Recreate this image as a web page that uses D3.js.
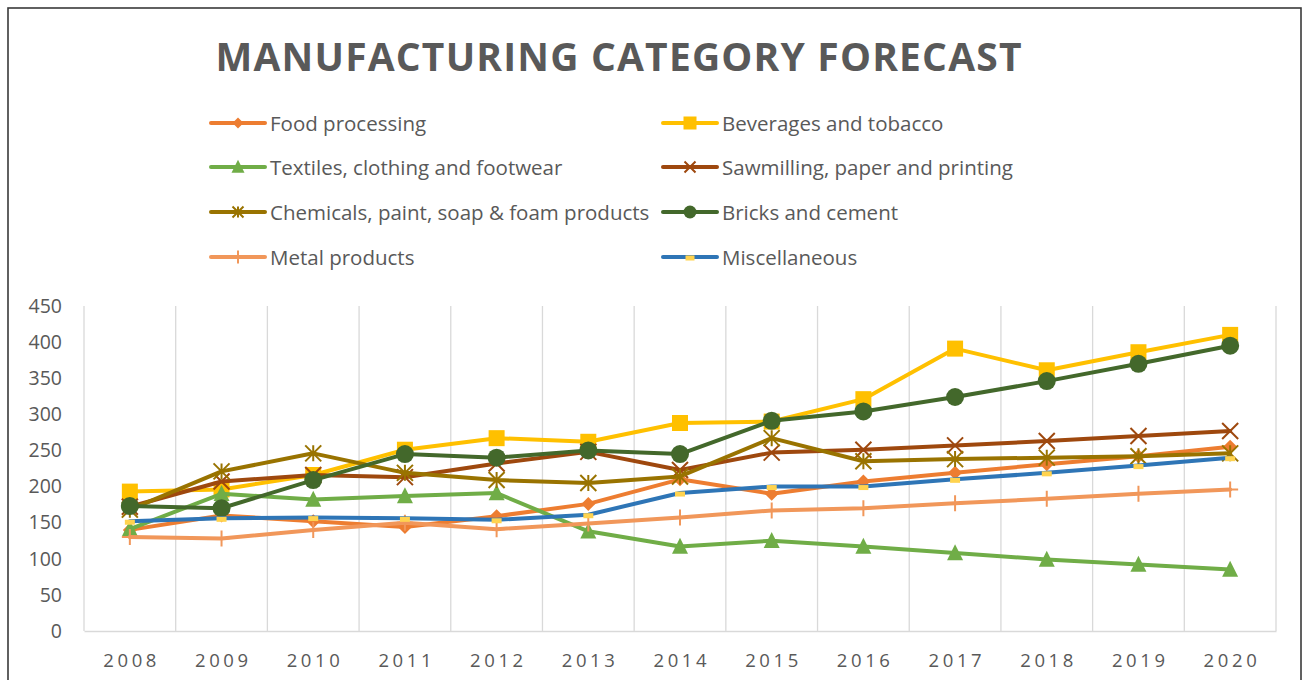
<!DOCTYPE html>
<html>
<head>
<meta charset="utf-8">
<script src="https://cdn.jsdelivr.net/npm/d3@7"></script>
<style>
  html, body { margin: 0; padding: 0; background: #fff; }
  svg { display: block; font-family: "Open Sans", "Liberation Sans", sans-serif; }
</style>
</head>
<body>
<svg id="chart" width="1305" height="680"></svg>
<script>
// Years on the category axis
const years = ["2008","2009","2010","2011","2012","2013","2014","2015","2016","2017","2018","2019","2020"];
const yTicks = [0, 50, 100, 150, 200, 250, 300, 350, 400, 450];

// Series values, one per year
const foodProcessing   = [140, 160, 152, 144, 159, 176, 210, 190, 207, 219, 231, 242, 255];
const beveragesTobacco = [193, 196, 216, 251, 267, 262, 288, 290, 321, 391, 361, 386, 410];
const textiles         = [141, 190, 182, 187, 191, 138, 117, 125, 117, 108, 99, 92, 85];
const sawmilling       = [172, 207, 216, 213, 232, 248, 223, 247, 251, 257, 263, 270, 277];
const chemicals        = [168, 221, 246, 219, 209, 205, 214, 267, 235, 238, 240, 242, 246];
const bricksCement     = [173, 170, 209, 245, 240, 250, 245, 291, 304, 324, 346, 370, 395];
const metalProducts    = [130, 128, 140, 150, 141, 149, 157, 167, 170, 177, 183, 190, 196];
const miscellaneous    = [152, 156, 157, 156, 154, 161, 191, 200, 200, 210, 219, 229, 240];

const seriesNames = [
  "Food processing", "Beverages and tobacco",
  "Textiles, clothing and footwear", "Sawmilling, paper and printing",
  "Chemicals, paint, soap & foam products", "Bricks and cement",
  "Metal products", "Miscellaneous"
];

const series = [
  { name: seriesNames[0], values: foodProcessing,   color: "#ED7D31", marker: "diamond" },
  { name: seriesNames[1], values: beveragesTobacco, color: "#FFC000", marker: "square" },
  { name: seriesNames[2], values: textiles,         color: "#70AD47", marker: "triangle" },
  { name: seriesNames[3], values: sawmilling,       color: "#9E480E", marker: "x" },
  { name: seriesNames[4], values: chemicals,        color: "#997300", marker: "star" },
  { name: seriesNames[5], values: bricksCement,     color: "#43682B", marker: "circle" },
  { name: seriesNames[6], values: metalProducts,    color: "#F1975A", marker: "plus" },
  { name: seriesNames[7], values: miscellaneous,    color: "#2E75B6", marker: "dash", markerColor: "#FFD34F" }
];

const svg = d3.select("#chart");
const textColor = "#595959";
const gridColor = "#D9D9D9";

// Outer chart frame (bottom edge runs past the page)
svg.append("rect")
  .attr("x", 8).attr("y", 8).attr("width", 1293).attr("height", 720)
  .attr("fill", "none").attr("stroke", "#3a3a3a").attr("stroke-width", 1.6);

// Plot area
const plot = { left: 84, right: 1276, top: 306, bottom: 631 };
const x = d3.scaleBand().domain(years).range([plot.left, plot.right]);
const y = d3.scaleLinear().domain([0, 450]).range([plot.bottom, plot.top]);
const cx = d => x(d) + x.bandwidth() / 2;

// Vertical gridlines on category boundaries
const boundaries = years.map(d => x(d)).concat([plot.right]);
svg.append("g").selectAll("line").data(boundaries).join("line")
  .attr("x1", d => d).attr("x2", d => d)
  .attr("y1", plot.top).attr("y2", plot.bottom)
  .attr("stroke", gridColor).attr("stroke-width", 1.3);

// Y axis labels
const yAxis = svg.append("g")
  .attr("transform", `translate(${plot.left},0)`)
  .call(d3.axisLeft(y).tickValues(yTicks).tickSize(0).tickPadding(22));
yAxis.select(".domain").remove();
yAxis.selectAll("text")
  .attr("fill", textColor).attr("font-size", "19.5px")
  .attr("font-family", "'Open Sans', sans-serif");

// X axis
const xAxis = svg.append("g")
  .attr("transform", `translate(0,${plot.bottom})`)
  .call(d3.axisBottom(x).tickSize(0).tickPadding(23));
xAxis.select(".domain").attr("stroke", gridColor).attr("stroke-width", 1.3);
xAxis.selectAll("text")
  .attr("fill", textColor).attr("font-size", "18.5px")
  .attr("font-family", "'Open Sans', sans-serif")
  .attr("letter-spacing", "3.6px")
  .attr("dx", "1.8px");

// Marker shapes
function drawMarker(g, type, color, size, fillColor) {
  const s = size;
  switch (type) {
    case "diamond":
      g.append("path").attr("d", `M0,${-s/2}L${s/2},0L0,${s/2}L${-s/2},0Z`).attr("fill", color);
      break;
    case "square":
      g.append("rect").attr("x", -s/2).attr("y", -s/2).attr("width", s).attr("height", s).attr("fill", color);
      break;
    case "triangle":
      g.append("path").attr("d", `M0,${-s*0.55}L${s/2},${s*0.45}L${-s/2},${s*0.45}Z`).attr("fill", color);
      break;
    case "circle":
      g.append("circle").attr("r", s/2).attr("fill", color);
      break;
    case "x":
      g.append("path").attr("d", `M${-s/2},${-s/2}L${s/2},${s/2}M${s/2},${-s/2}L${-s/2},${s/2}`)
        .attr("stroke", color).attr("stroke-width", 2).attr("fill", "none");
      break;
    case "star":
      g.append("path").attr("d", `M${-s/2},${-s/2}L${s/2},${s/2}M${s/2},${-s/2}L${-s/2},${s/2}M0,${-s/2}L0,${s/2}`)
        .attr("stroke", color).attr("stroke-width", 2).attr("fill", "none");
      break;
    case "plus":
      g.append("path").attr("d", `M0,${-s/2}L0,${s/2}M${-s/2},0L${s/2},0`)
        .attr("stroke", color).attr("stroke-width", 2).attr("fill", "none");
      break;
    case "dash":
      g.append("rect").attr("x", -s/2).attr("y", -1.5).attr("width", s).attr("height", 5)
        .attr("fill", fillColor || color);
      break;
  }
}

const markerSize = { diamond: 14, square: 16, triangle: 16, circle: 18, x: 16, star: 16, plus: 16, dash: 10 };

// Lines and markers, drawn in series order
const line = d3.line().x((d, i) => cx(years[i])).y(d => y(d));
series.forEach(s => {
  const g = svg.append("g");
  g.append("path").datum(s.values).attr("d", line)
    .attr("fill", "none").attr("stroke", s.color).attr("stroke-width", 4)
    .attr("stroke-linejoin", "round").attr("stroke-linecap", "round");
  s.values.forEach((v, i) => {
    const m = g.append("g").attr("transform", `translate(${cx(years[i])},${y(v)})`);
    drawMarker(m, s.marker, s.color, markerSize[s.marker], s.markerColor);
  });
});

// Title
svg.append("text")
  .attr("x", 618.5).attr("y", 71)
  .attr("text-anchor", "middle")
  .attr("font-size", "39px").attr("font-weight", "bold")
  .attr("fill", textColor)
  .attr("textLength", 806).attr("lengthAdjust", "spacing")
  .text("MANUFACTURING CATEGORY FORECAST");

// Legend, two columns
const legendCols = [211, 663];
const legendRows = [123, 167, 212, 257];
series.forEach((s, i) => {
  const lx = legendCols[i % 2];
  const ly = legendRows[Math.floor(i / 2)];
  const g = svg.append("g").attr("transform", `translate(${lx},${ly})`);
  g.append("line").attr("x1", 0).attr("x2", 54).attr("y1", 0).attr("y2", 0)
    .attr("stroke", s.color).attr("stroke-width", 4).attr("stroke-linecap", "round");
  const m = g.append("g").attr("transform", "translate(27,0)");
  const ls = { diamond: 11, square: 13, triangle: 13, circle: 13, x: 11, star: 11, plus: 13, dash: 9 }[s.marker];
  drawMarker(m, s.marker, s.color, ls, s.markerColor);
  g.append("text").attr("x", 59).attr("y", 7.5)
    .attr("font-size", "20.5px").attr("fill", textColor)
    .text(s.name);
});
</script>
</body>
</html>
